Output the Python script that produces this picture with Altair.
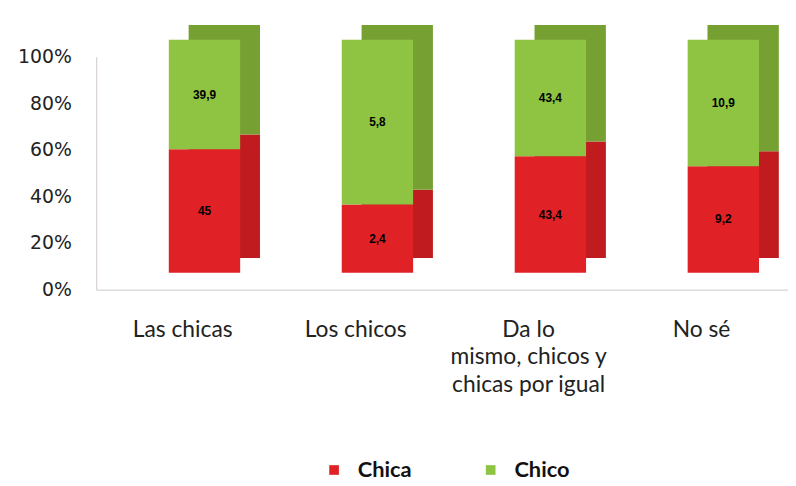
import json
import altair as alt
import pandas as pd

categories = ["Las chicas", "Los chicos", "Da lo mismo, chicos y chicas por igual", "No sé"]
category_lines = [["Las chicas"], ["Los chicos"], ["Da lo", "mismo, chicos y", "chicas por igual"], ["No sé"]]
chica = [45, 2.4, 43.4, 9.2]
chico = [39.9, 5.8, 43.4, 10.9]
series = ["Chica", "Chico"]
front_colors = ["#e02227", "#8fc342"]
side_colors = ["#c01c1f", "#76a032"]
y_ticks = [0, 0.2, 0.4, 0.6, 0.8, 1.0]

rows = []
for i, c in enumerate(categories):
    rows.append({"cat": c, "serie": series[0], "value": chica[i], "ord": 0, "side": side_colors[0]})
    rows.append({"cat": c, "serie": series[1], "value": chico[i], "ord": 1, "side": side_colors[1]})
df = pd.DataFrame(rows)

# multi-line axis labels
label_expr = "datum.value"
for c, lines in zip(categories, category_lines):
    if len(lines) > 1:
        label_expr = f"datum.value == {json.dumps(c)} ? {json.dumps(lines)} : ({label_expr})"

base = (
    alt.Chart(df)
    .transform_joinaggregate(total="sum(value)", groupby=["cat"])
    .transform_calculate(pct="datum.value / datum.total")
    .transform_stack(stack="pct", groupby=["cat"], as_=["y0", "y1"],
                     sort=[alt.SortField("ord", order="ascending")])
    .transform_calculate(mid="(datum.y0 + datum.y1) / 2",
                         label="replace(format(datum.value, ''), '.', ',')")
)

x_enc = alt.X(
    "cat:N", sort=categories,
    scale=alt.Scale(paddingInner=0, paddingOuter=0),
    axis=alt.Axis(title=None, labelAngle=0, labelExpr=label_expr, labelFont="Lato",
                  labelFontSize=23, labelColor="#222222", labelPadding=29, ticks=False,
                  domainColor="#cfc8c8", labelLineHeight=28, labelBaseline="top"),
)
y_enc = alt.Y(
    "y1:Q", scale=alt.Scale(domain=[0, 1]),
    axis=alt.Axis(format=".0%", values=y_ticks, grid=False, title=None,
                  labelFont="DejaVu Sans", labelFontSize=19, labelColor="#222222",
                  labelPadding=25, ticks=False, domainColor="#cfc8c8"),
)

back = base.mark_bar(size=72, xOffset=42, yOffset=-32, y2Offset=-32).encode(
    x=x_enc, y=y_enc, y2="y0:Q", color=alt.Color("side:N", scale=None)
)
front = base.mark_bar(size=72, xOffset=22, yOffset=-17, y2Offset=-17).encode(
    x=x_enc, y=y_enc, y2="y0:Q",
    color=alt.Color(
        "serie:N", scale=alt.Scale(domain=series, range=front_colors),
        legend=alt.Legend(title=None, orient="none", legendX=229, legendY=406,
                          direction="horizontal", symbolType="square", symbolSize=95,
                          symbolStrokeWidth=0, labelFont="Lato", labelFontWeight="bold",
                          labelFontSize=22, labelColor="#111111", columnPadding=68,
                          labelOffset=13),
    ),
)
text = base.mark_text(xOffset=22, yOffset=-17, font="Liberation Sans", fontWeight="bold",
                      fontSize=12, color="black").encode(
    x=x_enc, y=alt.Y("mid:Q"), text="label:N"
)

chart = (
    alt.layer(back, front, text)
    .properties(width=698, height=235, autosize=alt.AutoSizeParams(type="none"),
                padding={"left": 89, "top": 47, "right": 0, "bottom": 196},
                background="white")
    .configure_view(stroke=None)
)

chart.save("out.html", embed_options={"renderer": "svg", "actions": False})
